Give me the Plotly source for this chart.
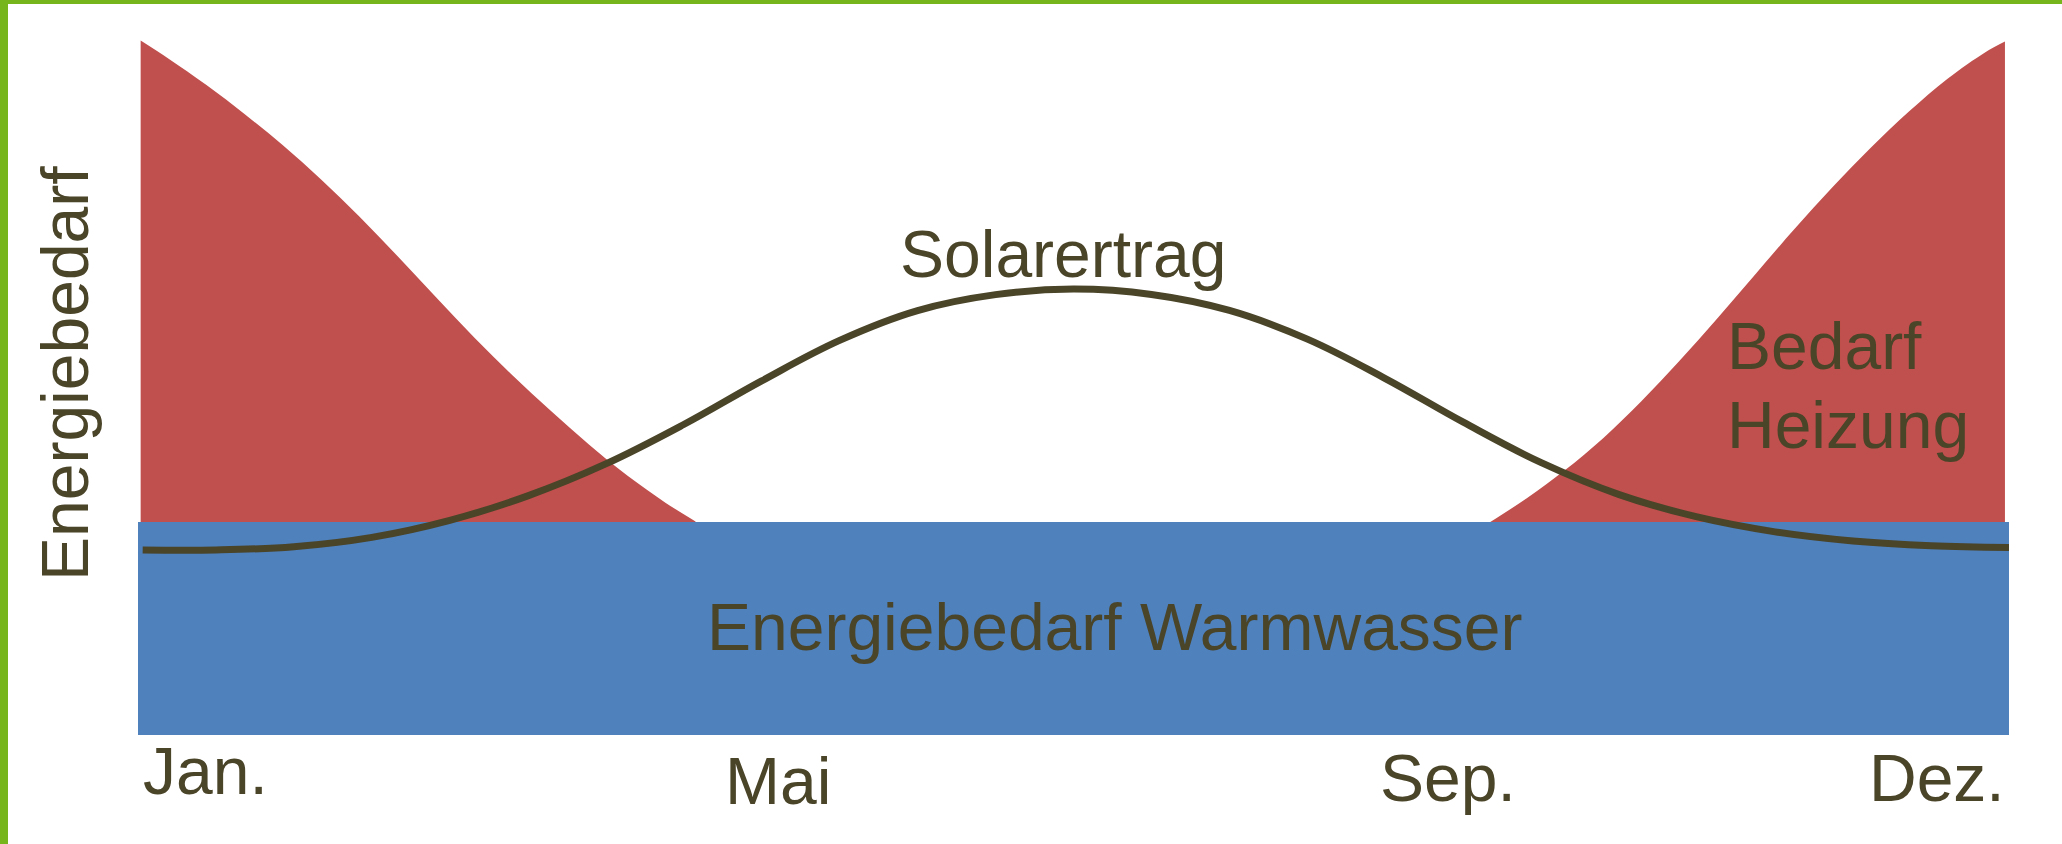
import plotly.graph_objects as go

# ---- data (x in months from Jan. start = 0 to Dez. end = 12; y in units of warm-water demand) ----
heat_left_x = [0.017, 0.194, 0.439, 0.685, 0.931, 1.176, 1.421, 1.667, 1.913, 2.158,
               2.403, 2.649, 2.894, 3.14, 3.385, 3.576]
heat_left_y = [3.261, 3.177, 3.052, 2.915, 2.768, 2.608, 2.434, 2.247, 2.054, 1.866,
               1.688, 1.521, 1.363, 1.217, 1.090, 1.003]

heat_right_x = [8.673, 8.905, 9.151, 9.397, 9.642, 9.887, 10.133, 10.379, 10.624, 10.869,
                11.115, 11.360, 11.606, 11.851, 11.974]
heat_right_y = [1.0, 1.111, 1.243, 1.394, 1.567, 1.757, 1.960, 2.169, 2.376, 2.573,
                2.759, 2.929, 3.082, 3.208, 3.257]

water_x = [0.0, 12.0]
water_y = [1.0, 1.0]

solar_x = [0.03, 0.5, 1.0, 1.5, 2.0, 2.5, 3.0, 3.5, 4.0, 4.5, 5.0, 5.5, 6.0, 6.5, 7.0,
           7.5, 8.0, 8.5, 9.0, 9.5, 10.0, 10.5, 11.0, 11.5, 12.0]
solar_y = [0.869, 0.869, 0.884, 0.928, 1.008, 1.123, 1.273, 1.458, 1.663, 1.853, 1.993,
           2.068, 2.094, 2.069, 1.994, 1.859, 1.674, 1.469, 1.279, 1.129, 1.024, 0.954,
           0.911, 0.889, 0.881]

tick_labels = ["Jan.", "Mai", "Sep.", "Dez."]
tick_x = [0.434, 4.104, 8.404, 11.538]
tick_y = [-0.168, -0.215, -0.202, -0.204]

# ---- style ----
RED = "#C0504D"
BLUE = "#4F81BD"
DARK = "#4A4429"
GREEN = "#76B51B"
FONT = "Liberation Sans, Arial, sans-serif"
FS = 66

W, H = 2062, 844
ML, MR, MT, MB = 138, 53, 11, 109
PW, PH = W - ML - MR, H - MT - MB
YMAX = 3.4

fig = go.Figure()

fig.add_trace(go.Scatter(x=heat_left_x, y=heat_left_y, mode="lines", fill="tozeroy",
                         line=dict(width=0, color=RED, shape="spline"), fillcolor=RED,
                         hoverinfo="skip", showlegend=False))
fig.add_trace(go.Scatter(x=heat_right_x, y=heat_right_y, mode="lines", fill="tozeroy",
                         line=dict(width=0, color=RED, shape="spline"), fillcolor=RED,
                         hoverinfo="skip", showlegend=False))
fig.add_trace(go.Scatter(x=water_x, y=water_y, mode="lines", fill="tozeroy",
                         line=dict(width=0, color=BLUE), fillcolor=BLUE,
                         hoverinfo="skip", showlegend=False))
fig.add_trace(go.Scatter(x=solar_x, y=solar_y, mode="lines",
                         line=dict(width=7, color=DARK, shape="spline", smoothing=1.1),
                         hoverinfo="skip", showlegend=False))

annotations = []
for t, x, y in zip(tick_labels, tick_x, tick_y):
    annotations.append(dict(x=x, y=y / YMAX, xref="x", yref="paper", text=t, showarrow=False,
                            xanchor="center", yanchor="middle",
                            font=dict(family=FONT, size=FS, color=DARK)))

annotations += [
    dict(x=5.935, y=2.261, xref="x", yref="y", text="Solarertrag", showarrow=False,
         xanchor="center", yanchor="middle", font=dict(family=FONT, size=FS, color=DARK)),
    dict(x=10.18, y=1.827, xref="x", yref="y", text="Bedarf", showarrow=False,
         xanchor="left", yanchor="middle", font=dict(family=FONT, size=FS, color=DARK)),
    dict(x=10.18, y=1.457, xref="x", yref="y", text="Heizung", showarrow=False,
         xanchor="left", yanchor="middle", font=dict(family=FONT, size=FS, color=DARK)),
    dict(x=6.263, y=0.505, xref="x", yref="y", text="Energiebedarf Warmwasser", showarrow=False,
         xanchor="center", yanchor="middle", font=dict(family=FONT, size=FS, color=DARK)),
    dict(x=(65 - ML) / PW, y=(H - MB - 374) / PH, xref="paper", yref="paper",
         text="Energiebedarf", showarrow=False, textangle=-90,
         xanchor="center", yanchor="middle", font=dict(family=FONT, size=FS, color=DARK)),
]

shapes = [
    dict(type="rect", xref="paper", yref="paper",
         x0=-ML / PW, x1=(-ML + 8) / PW, y0=-MB / PH, y1=1 + MT / PH,
         fillcolor=GREEN, line=dict(width=0), layer="above"),
    dict(type="rect", xref="paper", yref="paper",
         x0=-ML / PW, x1=1 + MR / PW, y0=1 + (MT - 4) / PH, y1=1 + MT / PH,
         fillcolor=GREEN, line=dict(width=0), layer="above"),
]

fig.update_layout(
    width=W, height=H,
    margin=dict(l=ML, r=MR, t=MT, b=MB, pad=0),
    paper_bgcolor="white", plot_bgcolor="white",
    xaxis=dict(range=[0, 12], visible=False, fixedrange=True),
    yaxis=dict(range=[0, YMAX], visible=False, fixedrange=True),
    annotations=annotations,
    shapes=shapes,
    showlegend=False,
)

fig.write_html("out.html", config={"displayModeBar": False},
               post_script="document.body.style.margin='0px';document.body.style.overflow='hidden';")
